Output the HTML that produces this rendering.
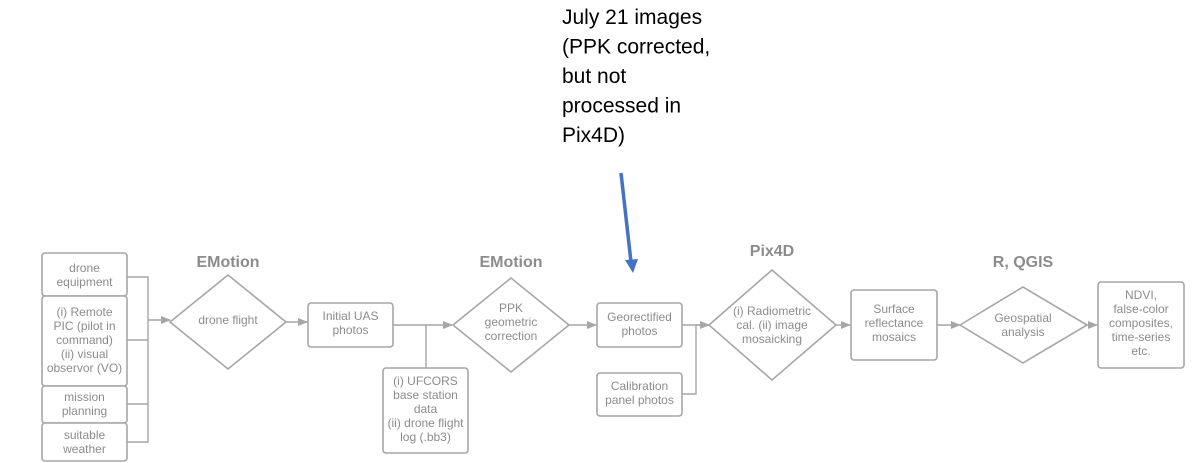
<!DOCTYPE html>
<html><head><meta charset="utf-8"><style>
html,body{margin:0;padding:0;background:#fff;}
svg{display:block;}
.b{fill:#fff;stroke:#a6a6a6;stroke-width:1.6;}
.l{fill:none;stroke:#a6a6a6;stroke-width:1.4;}
.t{font-family:"Liberation Sans",sans-serif;font-size:12px;fill:#8c8c8c;text-anchor:middle;}
.h{font-family:"Liberation Sans",sans-serif;font-size:16px;font-weight:bold;fill:#8c8c8c;text-anchor:middle;}
.j{font-family:"Liberation Sans",sans-serif;font-size:21px;fill:#000;}
</style></head><body>
<svg width="1192" height="463" viewBox="0 0 1192 463">
<defs><marker id="a" markerWidth="10" markerHeight="8" refX="9" refY="4" orient="auto" markerUnits="userSpaceOnUse"><path d="M0,0 L10,4 L0,8 Z" fill="#a6a6a6"/></marker></defs>
<text class="j"><tspan x="562" y="24">July 21 images</tspan><tspan x="562" y="53.5">(PPK corrected,</tspan><tspan x="562" y="83">but not</tspan><tspan x="562" y="112.5">processed in</tspan><tspan x="562" y="142">Pix4D)</tspan></text>
<line x1="621" y1="173" x2="631" y2="262" stroke="#4472c4" stroke-width="3.5"/>
<path d="M625,260 L638,259 L633,273 Z" fill="#4472c4"/>

<rect class="b" x="42" y="253" width="85" height="43" rx="3"/>
<rect class="b" x="42" y="296" width="85" height="90" rx="3"/>
<rect class="b" x="42" y="386" width="85" height="37" rx="3"/>
<rect class="b" x="42" y="423" width="85" height="38" rx="3"/>
<text class="t"><tspan x="84.5" y="272">drone</tspan><tspan x="84.5" y="286">equipment</tspan></text>
<text class="t"><tspan x="84.5" y="316">(i) Remote</tspan><tspan x="84.5" y="330">PIC (pilot in</tspan><tspan x="84.5" y="344">command)</tspan><tspan x="84.5" y="358">(ii) visual</tspan><tspan x="84.5" y="372">observor (VO)</tspan></text>
<text class="t"><tspan x="84.5" y="401">mission</tspan><tspan x="84.5" y="415">planning</tspan></text>
<text class="t"><tspan x="84.5" y="439">suitable</tspan><tspan x="84.5" y="453">weather</tspan></text>
<path class="l" d="M127,277 H148 V320 M127,340 H148 V320 M127,404 H148 V320 M127,442 H148 V320"/>
<line class="l" x1="148" y1="320" x2="170" y2="320" marker-end="url(#a)"/>

<text class="h" x="228" y="267">EMotion</text>
<polygon class="b" points="170,322 228,275 286,322 228,369"/>
<text class="t" x="228" y="324">drone flight</text>
<line class="l" x1="286" y1="322" x2="307" y2="322" marker-end="url(#a)"/>

<rect class="b" x="308" y="303" width="85" height="44" rx="3"/>
<text class="t"><tspan x="350.5" y="320">Initial UAS</tspan><tspan x="350.5" y="334">photos</tspan></text>
<line class="l" x1="393" y1="325" x2="452" y2="325" marker-end="url(#a)"/>
<line class="l" x1="426" y1="325" x2="426" y2="368"/>
<rect class="b" x="383" y="368" width="85" height="85" rx="3"/>
<text class="t"><tspan x="425.5" y="385">(i) UFCORS</tspan><tspan x="425.5" y="399">base station</tspan><tspan x="425.5" y="413">data</tspan><tspan x="425.5" y="427">(ii) drone flight</tspan><tspan x="425.5" y="441">log (.bb3)</tspan></text>

<text class="h" x="511" y="267">EMotion</text>
<polygon class="b" points="453,325 511,278 569,325 511,372"/>
<text class="t"><tspan x="511" y="312">PPK</tspan><tspan x="511" y="326">geometric</tspan><tspan x="511" y="340">correction</tspan></text>
<line class="l" x1="569" y1="325" x2="596" y2="325" marker-end="url(#a)"/>

<rect class="b" x="597" y="303" width="85" height="44" rx="3"/>
<text class="t"><tspan x="639.5" y="321">Georectified</tspan><tspan x="639.5" y="335">photos</tspan></text>
<rect class="b" x="597" y="373" width="85" height="43" rx="3"/>
<text class="t"><tspan x="639.5" y="390">Calibration</tspan><tspan x="639.5" y="404">panel photos</tspan></text>
<path class="l" d="M682,325 H708 M682,394 H696 V325"/>
<line class="l" x1="696" y1="325" x2="709" y2="325" marker-end="url(#a)"/>

<text class="h" x="772" y="256">Pix4D</text>
<polygon class="b" points="709,325 772,270 836,325 772,380"/>
<text class="t"><tspan x="772" y="315">(i) Radiometric</tspan><tspan x="772" y="329">cal. (ii) image</tspan><tspan x="772" y="343">mosaicking</tspan></text>
<line class="l" x1="836" y1="325" x2="850" y2="325" marker-end="url(#a)"/>

<rect class="b" x="851" y="290" width="86" height="70" rx="3"/>
<text class="t"><tspan x="894" y="313">Surface</tspan><tspan x="894" y="327">reflectance</tspan><tspan x="894" y="341">mosaics</tspan></text>
<line class="l" x1="937" y1="325" x2="960" y2="325" marker-end="url(#a)"/>

<text class="h" x="1023" y="267">R, QGIS</text>
<polygon class="b" points="960,325 1023,287 1087,325 1023,363"/>
<text class="t"><tspan x="1023" y="322">Geospatial</tspan><tspan x="1023" y="336">analysis</tspan></text>
<line class="l" x1="1087" y1="325" x2="1097" y2="325" marker-end="url(#a)"/>

<rect class="b" x="1098" y="282" width="86" height="86" rx="3"/>
<text class="t"><tspan x="1141" y="299">NDVI,</tspan><tspan x="1141" y="313">false-color</tspan><tspan x="1141" y="327">composites,</tspan><tspan x="1141" y="341">time-series</tspan><tspan x="1141" y="355">etc.</tspan></text>
</svg>
</body></html>
